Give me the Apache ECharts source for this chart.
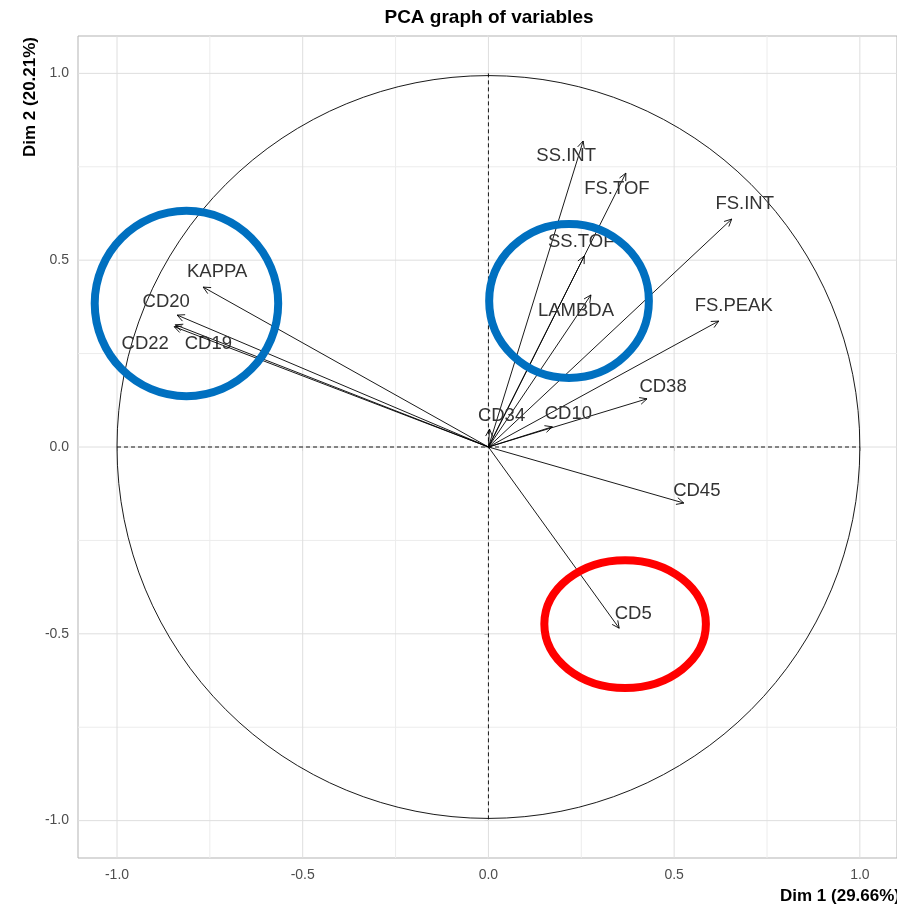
<!DOCTYPE html>
<html>
<head>
<meta charset="utf-8">
<title>PCA graph of variables</title>
<script src="https://cdn.jsdelivr.net/npm/echarts@6/dist/echarts.min.js"></script>
<style>
  html, body { margin: 0; padding: 0; background: #fff; }
  #chart { width: 897px; height: 908px; }
</style>
</head>
<body>
<div id="chart"></div>
<script>
// Variables and their loadings on the first two principal dimensions
const variables = ['SS.INT', 'FS.TOF', 'SS.TOF', 'FS.INT', 'LAMBDA', 'FS.PEAK', 'CD38', 'CD10',
                   'CD34', 'CD45', 'CD5', 'KAPPA', 'CD20', 'CD19', 'CD22'];
const dim1 = [0.255, 0.370, 0.258, 0.655, 0.276, 0.620, 0.427, 0.172,
              0.003, 0.526, 0.352, -0.768, -0.838, -0.843, -0.846];
const dim2 = [0.819, 0.733, 0.511, 0.610, 0.407, 0.337, 0.129, 0.054,
              0.048, -0.150, -0.485, 0.428, 0.353, 0.327, 0.322];

// Axis ticks
const majorTicks = [-1.0, -0.5, 0.0, 0.5, 1.0];
const minorTicks = [-0.75, -0.25, 0.25, 0.75];

// Highlight rings around groups of variables (centre and radii in loading units)
const ringCx = [-0.813, 0.217, 0.368];
const ringCy = [0.384, 0.391, -0.474];
const ringRx = [0.247, 0.215, 0.2175];
const ringRy = [0.248, 0.206, 0.171];

// Styling: label nudges in pixels (keeps labels off the arrow heads) and ring colours
const labelNudge = [[-17, 15], [-9, 16], [-3, -14], [13, -15], [-15, 16], [15, -15], [16, -12], [16, -13],
                    [12, -13], [13, -12], [14, -14], [14, -15], [-11, -13], [33, 19], [-29, 17]];
const ringColors = ['#0070C0', '#0070C0', '#FF0000'];

const FONT = "'Liberation Sans', Arial, sans-serif";

const chart = echarts.init(document.getElementById('chart'), null, { renderer: 'canvas' });

const tickFormatter = v => Number(v).toFixed(1);

const option = {
  animation: false,
  backgroundColor: '#ffffff',
  grid: {
    left: 78, top: 36, width: 821.4, height: 822,
    show: true, borderColor: '#b3b3b3', borderWidth: 1, backgroundColor: 'transparent'
  },
  xAxis: {
    type: 'value', min: -1.105, max: 1.1,
    axisLine: { show: false },
    splitLine: { show: false },
    axisTick: { show: true, customValues: majorTicks, length: 4, lineStyle: { color: '#b3b3b3' } },
    axisLabel: { customValues: majorTicks, formatter: tickFormatter, color: '#4d4d4d',
                 fontSize: 14, fontFamily: FONT, margin: 10 }
  },
  yAxis: {
    type: 'value', min: -1.1, max: 1.1,
    axisLine: { show: false },
    splitLine: { show: false },
    axisTick: { show: true, customValues: majorTicks, length: 4, lineStyle: { color: '#b3b3b3' } },
    axisLabel: { customValues: majorTicks, formatter: tickFormatter, color: '#4d4d4d',
                 fontSize: 14, fontFamily: FONT, margin: 9 }
  },
  graphic: [
    { type: 'text', x: 489, y: 18, z: 100,
      style: { text: 'PCA graph of variables', font: "bold 19px " + FONT, fill: '#000',
               align: 'center', verticalAlign: 'middle' } },
    { type: 'text', x: 30, y: 37, rotation: Math.PI / 2, z: 100,
      style: { text: 'Dim 2 (20.21%)', font: "bold 17px " + FONT, fill: '#000',
               align: 'right', verticalAlign: 'middle' } },
    { type: 'text', x: 900, y: 896, z: 100,
      style: { text: 'Dim 1 (29.66%)', font: "bold 17px " + FONT, fill: '#000',
               align: 'right', verticalAlign: 'middle' } }
  ],
  series: [
    // panel grid lines
    {
      type: 'custom', z: 1, silent: true, clip: true,
      data: [[0, 0]],
      renderItem(params, api) {
        const cs = params.coordSys;
        const children = [];
        const addLines = (ticks, color, w) => {
          ticks.forEach(t => {
            const px = api.coord([t, 0])[0];
            const py = api.coord([0, t])[1];
            children.push({ type: 'line', shape: { x1: px, y1: cs.y, x2: px, y2: cs.y + cs.height },
                            style: { stroke: color, lineWidth: w } });
            children.push({ type: 'line', shape: { x1: cs.x, y1: py, x2: cs.x + cs.width, y2: py },
                            style: { stroke: color, lineWidth: w } });
          });
        };
        addLines(minorTicks, '#ececec', 1);
        addLines(majorTicks, '#dedede', 1);
        return { type: 'group', children };
      }
    },
    // correlation circle and dashed reference axes
    {
      type: 'custom', z: 2, silent: true, clip: false,
      data: [[0, 0]],
      renderItem(params, api) {
        const c = api.coord([0, 0]);
        const left = api.coord([-1, 0]), right = api.coord([1, 0]);
        const top = api.coord([0, 1]), bottom = api.coord([0, -1]);
        const r = (right[0] - left[0]) / 2;
        return {
          type: 'group',
          children: [
            { type: 'circle', shape: { cx: c[0], cy: c[1], r: r },
              style: { stroke: '#000', fill: null, lineWidth: 0.9 } },
            { type: 'line', shape: { x1: left[0], y1: left[1], x2: right[0], y2: right[1] },
              style: { stroke: '#000', lineWidth: 0.9, lineDash: [4, 3] } },
            { type: 'line', shape: { x1: top[0], y1: top[1], x2: bottom[0], y2: bottom[1] },
              style: { stroke: '#000', lineWidth: 0.9, lineDash: [4, 3] } }
          ]
        };
      }
    },
    // variable arrows with labels
    {
      type: 'custom', z: 3, silent: true, clip: false,
      encode: { x: 0, y: 1 },
      data: variables.map((v, i) => [dim1[i], dim2[i]]),
      renderItem(params, api) {
        const i = params.dataIndex;
        const o = api.coord([0, 0]);
        const t = api.coord([api.value(0), api.value(1)]);
        const a = Math.atan2(t[1] - o[1], t[0] - o[0]);
        const L = 8, phi = Math.PI / 7;
        const h1 = [t[0] - L * Math.cos(a - phi), t[1] - L * Math.sin(a - phi)];
        const h2 = [t[0] - L * Math.cos(a + phi), t[1] - L * Math.sin(a + phi)];
        const n = labelNudge[i];
        return {
          type: 'group',
          children: [
            { type: 'line', shape: { x1: o[0], y1: o[1], x2: t[0], y2: t[1] },
              style: { stroke: '#000', lineWidth: 0.9 } },
            { type: 'polyline', shape: { points: [h1, t, h2] },
              style: { stroke: '#000', fill: null, lineWidth: 0.9 } },
            { type: 'text', x: t[0] + n[0], y: t[1] + n[1],
              style: { text: variables[i], font: '18.5px ' + FONT, fill: '#333',
                       align: 'center', verticalAlign: 'middle' } }
          ]
        };
      }
    },
    // highlight rings
    {
      type: 'custom', z: 4, silent: true, clip: false,
      encode: { x: 0, y: 1 },
      data: ringCx.map((v, i) => [ringCx[i], ringCy[i], ringRx[i], ringRy[i]]),
      renderItem(params, api) {
        const i = params.dataIndex;
        const c = api.coord([api.value(0), api.value(1)]);
        const sz = api.size([api.value(2), api.value(3)]);
        return {
          type: 'ellipse',
          shape: { cx: c[0], cy: c[1], rx: sz[0], ry: sz[1] },
          style: { stroke: ringColors[i], fill: null, lineWidth: 8 }
        };
      }
    }
  ]
};

chart.setOption(option);
</script>
</body>
</html>
